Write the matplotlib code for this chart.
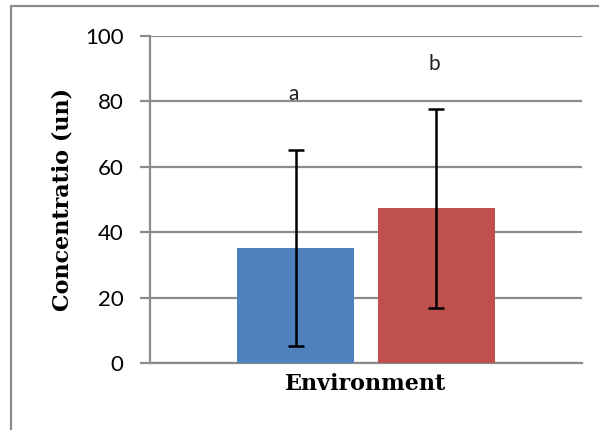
import matplotlib.pyplot as plt
from matplotlib.patches import Rectangle


# ----------------------------------------
# DATA
# ----------------------------------------

series_names = ["Group 1", "Group 2"]
means = [35.1, 47.3]
errors = [30.0, 30.4]
letters = ["a", "b"]
letter_heights = [80.4, 89.6]
colors = ["#4F81BD", "#C0504D"]

y_ticks = [0, 20, 40, 60, 80, 100]


# ----------------------------------------
# CHART
# ----------------------------------------

fig = plt.figure(figsize=(5.99, 4.30), dpi=100)

ax = fig.add_axes([150 / 599, 1 - 363 / 430, 432 / 599, 327 / 430])

offsets = [-0.1625, 0.1625]
bar_width = 0.27

for off, m, e, c, lab, h in zip(offsets, means, errors, colors, letters, letter_heights):

    ax.bar(off, m, width=bar_width, color=c, zorder=3)

    ax.errorbar(
        off, m, yerr=e,
        fmt="none",
        ecolor="black",
        elinewidth=1.8,
        capsize=6,
        capthick=1.8,
        zorder=4
    )

    ax.text(
        off - 0.005, h, lab,
        ha="center", va="baseline",
        fontsize=15, family="Lato", color="#222222"
    )

ax.set_xlim(-0.5, 0.5)
ax.set_ylim(0, 100)
ax.set_yticks(y_ticks)
ax.set_yticklabels([str(t) for t in y_ticks], fontsize=16, family="Lato")
ax.set_xticks([])

ax.grid(axis="y", color="#8c8c8c", linewidth=1.6, zorder=0)
ax.set_axisbelow(True)

for side in ["top", "right"]:
    ax.spines[side].set_visible(False)
for side in ["left", "bottom"]:
    ax.spines[side].set_color("#8c8c8c")
    ax.spines[side].set_linewidth(1.6)

ax.tick_params(axis="y", length=7, width=1.6, color="#8c8c8c", pad=12)

ax.set_xlabel(
    "Environment",
    fontsize=16, family="DejaVu Serif", fontweight="bold", labelpad=7
)
ax.set_ylabel(
    "Concentratio (un)",
    fontsize=16, family="DejaVu Serif", fontweight="bold", labelpad=8
)

# outer chart frame, cut off at right and bottom
fig.patches.append(
    Rectangle(
        (11 / 599, -0.05), 1.2, 1 - 6 / 430 + 0.05,
        transform=fig.transFigure,
        fill=False, edgecolor="#8c8c8c", linewidth=1.6
    )
)

plt.savefig("out.png", dpi=100)
